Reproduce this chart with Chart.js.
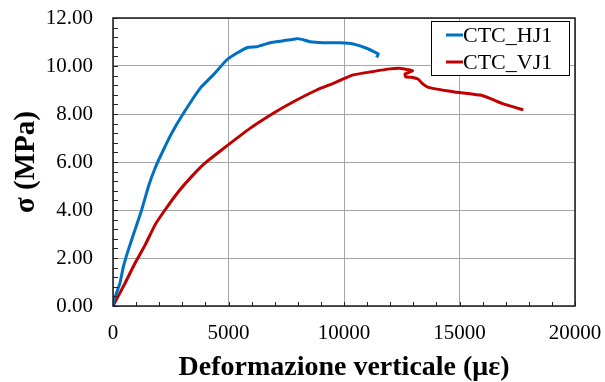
<!DOCTYPE html>
<html lang="it">
<head>
<meta charset="UTF-8">
<title>CTC</title>
<script src="https://cdn.jsdelivr.net/npm/chart.js"></script>
<style>
  html, body { margin: 0; padding: 0; background: #fff; }
  #wrap { width: 605px; height: 382px; }
</style>
</head>
<body>
<div id="wrap"><canvas id="chart" width="605" height="382"></canvas></div>
<script>
// data
const seriesNames = ['CTC_HJ1', 'CTC_VJ1'];
const hjX = [0, 20, 300, 450, 660, 950, 1240, 1530, 1820, 2180, 2540, 3050, 3770, 4340, 4920, 5350, 5860, 6220, 6800, 7370, 7950, 8170, 8530, 9100, 9830, 10400, 10980, 11490, 11410];
const hjY = [0, 0.18, 0.95, 1.64, 2.33, 3.17, 4.00, 4.97, 5.74, 6.50, 7.20, 8.03, 9.07, 9.63, 10.25, 10.53, 10.78, 10.80, 10.97, 11.05, 11.14, 11.11, 11.01, 10.97, 10.97, 10.92, 10.74, 10.50, 10.36];
const vjX = [0, 520, 950, 1390, 1820, 2250, 2830, 3400, 3980, 4700, 5930, 6940, 7810, 8820, 9540, 9970, 10400, 11130, 11990, 12500, 12860, 12970, 12640, 12670, 12930, 13220, 13360, 13650, 14730, 15890, 16320, 16900, 17760];
const vjY = [0, 0.95, 1.78, 2.54, 3.38, 4.00, 4.76, 5.39, 5.95, 6.50, 7.40, 8.03, 8.51, 9.00, 9.28, 9.46, 9.63, 9.75, 9.88, 9.90, 9.83, 9.80, 9.67, 9.55, 9.53, 9.45, 9.30, 9.11, 8.93, 8.79, 8.65, 8.42, 8.17];
const xTicks = [0, 5000, 10000, 15000, 20000];
const yTicks = [0, 2, 4, 6, 8, 10, 12];
const colors = ['#0070C0', '#C00000'];

const serif = '"Liberation Serif", "Times New Roman", serif';

function toPoints(xs, ys) {
  return xs.map((x, i) => ({ x: x, y: ys[i] }));
}

// frame, inner minor ticks and boxed legend
const extras = {
  id: 'extras',
  afterDraw(chart) {
    const ctx = chart.ctx;
    const a = chart.chartArea;
    const sx = chart.scales.x, sy = chart.scales.y;
    ctx.save();
    ctx.strokeStyle = '#222';
    ctx.lineWidth = 1;
    for (let v = 0; v <= 20000; v += 1000) {
      const px = Math.round(sx.getPixelForValue(v)) + 0.5;
      ctx.beginPath(); ctx.moveTo(px, a.bottom); ctx.lineTo(px, a.bottom - 4); ctx.stroke();
    }
    for (let v = 0; v <= 12.001; v += 0.4) {
      const py = Math.round(sy.getPixelForValue(v)) + 0.5;
      ctx.beginPath(); ctx.moveTo(a.left, py); ctx.lineTo(a.left + 5, py); ctx.stroke();
    }
    ctx.lineWidth = 1.5;
    ctx.strokeStyle = '#1a1a1a';
    ctx.strokeRect(a.left, a.top, a.right - a.left, a.bottom - a.top);

    // legend
    const lx = 431, ly = 21, lw = 138, lh = 54;
    ctx.fillStyle = '#fff';
    ctx.fillRect(lx, ly, lw, lh);
    ctx.lineWidth = 1;
    ctx.strokeStyle = '#000';
    ctx.strokeRect(lx + 0.5, ly + 0.5, lw, lh);
    ctx.font = '22px ' + serif;
    ctx.textBaseline = 'middle';
    seriesNames.forEach((name, i) => {
      const cy = ly + 14 + i * 27;
      ctx.strokeStyle = colors[i];
      ctx.lineWidth = 3;
      ctx.beginPath(); ctx.moveTo(446, cy); ctx.lineTo(463, cy); ctx.stroke();
      ctx.fillStyle = '#000';
      ctx.fillText(name, 463, cy + 1);
    });
    ctx.restore();
  }
};

function noPad(s) {
  s.paddingTop = 0; s.paddingBottom = 0; s.paddingLeft = 0; s.paddingRight = 0;
}

new Chart(document.getElementById('chart'), {
  type: 'scatter',
  data: {
    datasets: [
      { label: seriesNames[0], data: toPoints(hjX, hjY), borderColor: colors[0], showLine: true, borderWidth: 3, pointRadius: 0, tension: 0.1 },
      { label: seriesNames[1], data: toPoints(vjX, vjY), borderColor: colors[1], showLine: true, borderWidth: 3, pointRadius: 0, tension: 0.1 }
    ]
  },
  options: {
    responsive: false,
    animation: false,
    layout: { padding: { top: 18, right: 30, left: 0, bottom: 0 } },
    plugins: { legend: { display: false }, tooltip: { enabled: false } },
    scales: {
      x: {
        type: 'linear', min: 0, max: 20000,
        afterBuildTicks: s => { s.ticks = xTicks.map(v => ({ value: v })); },
        afterFit: s => { s.height = 76; noPad(s); },
        ticks: { color: '#000', font: { family: serif, size: 21 }, padding: 15, maxRotation: 0, callback: v => String(v) },
        grid: { color: '#a6a6a6', lineWidth: 1, drawTicks: false },
        border: { display: false },
        title: { display: true, text: 'Deformazione verticale (με)', color: '#000', font: { family: serif, size: 28, weight: 'bold', lineHeight: 1 }, padding: { top: 0, bottom: 0 } }
      },
      y: {
        type: 'linear', min: 0, max: 12,
        afterBuildTicks: s => { s.ticks = yTicks.map(v => ({ value: v })); },
        afterFit: s => { s.width = 113; noPad(s); },
        ticks: { color: '#000', font: { family: serif, size: 21 }, padding: 20, callback: v => v.toFixed(2) },
        grid: { color: '#a6a6a6', lineWidth: 1, drawTicks: false },
        border: { display: false },
        title: { display: true, text: 'σ (MPa)', color: '#000', font: { family: serif, size: 29, weight: 'bold', lineHeight: 1 }, padding: { top: 12, bottom: 0 } }
      }
    }
  },
  plugins: [extras]
});
</script>
</body>
</html>
